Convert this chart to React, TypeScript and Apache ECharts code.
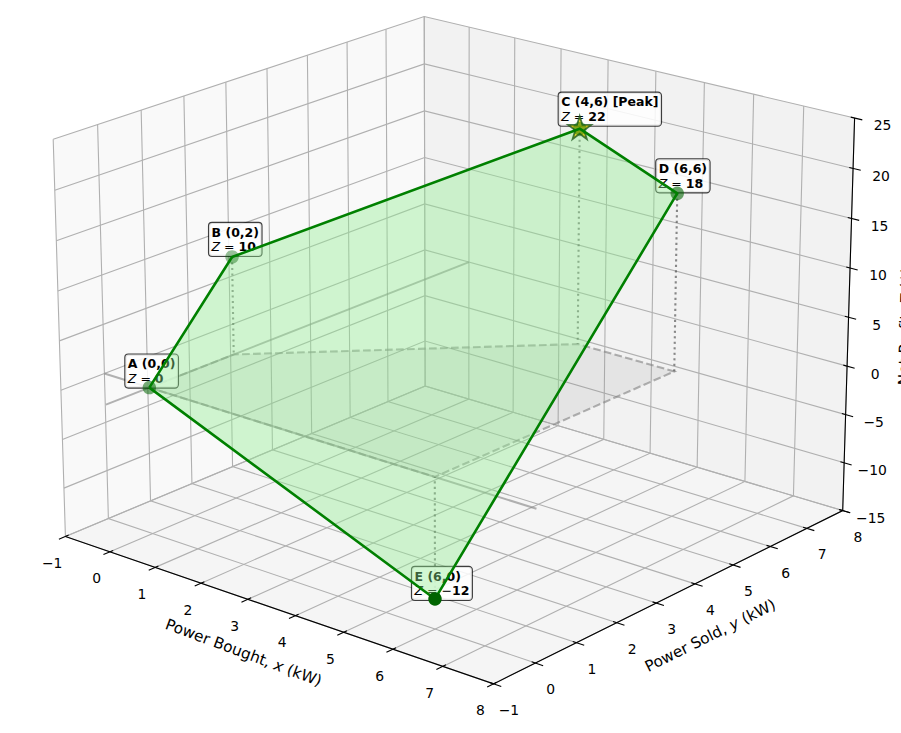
import React, { useEffect, useRef } from 'react';
import * as echarts from 'echarts';

const vertexLabels = ['A (0,0)', 'B (0,2)', 'C (4,6) [Peak]', 'D (6,6)', 'E (6,0)'];
const vertexX = [0, 0, 4, 6, 6];
const vertexY = [0, 2, 6, 6, 0];
const vertexZ = [0, 10, 22, 18, -12];

const xTicks = [-1, 0, 1, 2, 3, 4, 5, 6, 7, 8];
const yTicks = [-1, 0, 1, 2, 3, 4, 5, 6, 7, 8];
const zTicks = [-15, -10, -5, 0, 5, 10, 15, 20, 25];

const xLim = [-1, 8];
const yLim = [-1, 8];
const zLim = [-15, 25];

// label box offset from its point, px
const boxOffsets = [[-24, -33], [-23, -34], [-21, -36], [-21, -34], [-23, -32]];

const W = 901;
const H = 733;
const FONT = '"DejaVu Sans"';

// same camera as a matplotlib 3d axes: elev 20, azim -50, dist 10, box 4:4:3
const ELEV = (20 * Math.PI) / 180;
const AZIM = (-50 * Math.PI) / 180;
const DIST = 10;
const BOX = [1.1905, 1.1905, 0.8929];
const SCALE = 4705;
const CX = 456.7;
const CY = 329;

const n = [Math.cos(ELEV) * Math.cos(AZIM), Math.cos(ELEV) * Math.sin(AZIM), Math.sin(ELEV)];
const u = [-Math.sin(AZIM), Math.cos(AZIM), 0];
const v = [n[1] * u[2] - n[2] * u[1], n[2] * u[0] - n[0] * u[2], n[0] * u[1] - n[1] * u[0]];

type P3 = number[];

const toBox = (p: P3) => [
  ((p[0] - xLim[0]) / (xLim[1] - xLim[0]) - 0.5) * BOX[0],
  ((p[1] - yLim[0]) / (yLim[1] - yLim[0]) - 0.5) * BOX[1],
  ((p[2] - zLim[0]) / (zLim[1] - zLim[0]) - 0.5) * BOX[2],
];
const dot = (a: number[], b: number[]) => a[0] * b[0] + a[1] * b[1] + a[2] * b[2];
const depth = (p: P3) => DIST - dot(n, toBox(p));
const project = (p: P3) => {
  const q = toBox(p);
  const d = DIST - dot(n, q);
  return [CX + (SCALE * dot(u, q)) / d, CY - (SCALE * dot(v, q)) / d];
};

const vertices: P3[] = vertexX.map((x, i) => [x, vertexY[i], vertexZ[i]]);

let zCounter = 1;

function shapeSeries(paths: P3[][], closed: boolean, style: any) {
  return {
    type: 'custom',
    coordinateSystem: 'cartesian2d',
    silent: true,
    clip: false,
    z: zCounter++,
    data: paths.map((_, i) => [i, 0]),
    renderItem: (params: any, api: any) => ({
      type: closed ? 'polygon' : 'polyline',
      shape: { points: paths[params.dataIndex].map((p) => api.coord(project(p))) },
      style: closed ? style : { fill: 'none', ...style },
    }),
  };
}

function textSeries(items: { at: P3; dx: number; dy: number; text: string; rotation?: number }[], style: any) {
  return {
    type: 'custom',
    coordinateSystem: 'cartesian2d',
    silent: true,
    clip: false,
    z: zCounter++,
    data: items.map((_, i) => [i, 0]),
    renderItem: (params: any, api: any) => {
      const it = items[params.dataIndex];
      const c = api.coord(project(it.at));
      return {
        type: 'text',
        x: c[0] + it.dx,
        y: c[1] + it.dy,
        rotation: ((it.rotation || 0) * Math.PI) / 180,
        style: { text: it.text, ...style },
      };
    },
  };
}

function dotSeries(items: any[]) {
  return {
    type: 'scatter',
    silent: true,
    clip: false,
    z: zCounter++,
    symbolSize: 13.5,
    data: items,
  };
}

const minus = (t: number) => String(t).replace('-', '\u2212');

function buildOption() {
  zCounter = 1;
  const [x0, x1] = xLim;
  const [y0, y1] = yLim;
  const [z0, z1] = zLim;

  const gridPaths: P3[][] = [
    ...xTicks.map((x) => [[x, y0, z0], [x, y1, z0], [x, y1, z1]]),
    ...yTicks.map((y) => [[x1, y, z0], [x0, y, z0], [x0, y, z1]]),
    ...zTicks.map((z) => [[x0, y0, z], [x0, y1, z], [x1, y1, z]]),
  ];
  const axisPaths: P3[][] = [
    [[x0, y0, z0], [x1, y0, z0], [x1, y1, z0], [x1, y1, z1]],
    ...xTicks.map((x) => [[x, y0 - 0.15, z0], [x, y0 + 0.075, z0]]),
    ...yTicks.map((y) => [[x1 + 0.15, y, z0], [x1 - 0.075, y, z0]]),
    ...zTicks.map((z) => [[x1 - 0.075, y1, z], [x1 + 0.15, y1, z]]),
  ];
  const tickStyle = {
    fill: '#000',
    font: `13.9px ${FONT}`,
    align: 'center',
    verticalAlign: 'middle',
  };
  const axisTitleRich = {
    r: { fontFamily: 'DejaVu Sans', fontSize: 15.3, fill: '#000' },
    i: { fontFamily: 'DejaVu Sans', fontSize: 15.3, fontStyle: 'italic', fill: '#000' },
  };
  // nearer points look stronger, the way matplotlib shades 3d scatters
  const depths = vertices.map(depth);
  const dMin = Math.min(...depths);
  const dMax = Math.max(...depths);
  const markerAlpha = depths.map((d) => 1 - ((d - dMin) / (dMax - dMin)) * 0.6);
  const markers = vertices.map((p, i) => ({
    value: project(p),
    itemStyle: { color: '#006400', opacity: markerAlpha[i] },
  }));

  const series: any[] = [
    shapeSeries([[[x0, y0, z0], [x0, y1, z0], [x0, y1, z1], [x0, y0, z1]]], true, { fill: '#f9f9f9' }),
    shapeSeries([[[x0, y1, z0], [x1, y1, z0], [x1, y1, z1], [x0, y1, z1]]], true, { fill: '#f2f2f2' }),
    shapeSeries([[[x0, y0, z0], [x1, y0, z0], [x1, y1, z0], [x0, y1, z0]]], true, { fill: '#f5f5f5' }),
    shapeSeries(gridPaths, false, { stroke: '#b0b0b0', lineWidth: 1.1 }),
    shapeSeries(axisPaths, false, { stroke: '#000', lineWidth: 1.1 }),
    textSeries(xTicks.map((t) => ({ at: [t, y0, z0], dx: -13.2, dy: 26.5, text: minus(t) })), tickStyle),
    textSeries(yTicks.map((t) => ({ at: [x1, t, z0], dx: 15.3, dy: 26, text: minus(t) })), tickStyle),
    textSeries(zTicks.map((t) => ({ at: [x1, y1, t], dx: 28, dy: 7.4, text: minus(t) })), tickStyle),
    textSeries(
      [
        { at: [3.5, y0, z0], dx: -28, dy: 45.3, rotation: -20.5, text: '{r|Power Bought, }{i|x}{r| (kW)}' },
        { at: [x1, 3.5, z0], dx: 34.5, dy: 42.3, rotation: 26.5, text: '{r|Power Sold, }{i|y}{r| (kW)}' },
        { at: [x1, y1, 5], dx: 57, dy: 9, rotation: 88.4, text: '{r|Net Profit, }{i|Z}{r| ($)}' },
      ],
      { rich: axisTitleRich, align: 'center', verticalAlign: 'middle' },
    ),
    // reference lines on the z = 0 plane
    shapeSeries(
      [
        [[x0, 0, 0], [x1, 0, 0]],
        [[0, y0, 0], [0, y1, 0]],
      ],
      false,
      { stroke: 'rgba(128,128,128,0.6)', lineWidth: 2 },
    ),
    shapeSeries([vertices.map((p) => [p[0], p[1], 0])], true, {
      fill: 'rgba(128,128,128,0.12)',
      stroke: 'rgba(128,128,128,0.6)',
      lineWidth: 2.1,
      lineDash: [7.7, 3.3],
    }),
    shapeSeries(vertices.map((p) => [p, [p[0], p[1], 0]]), false, {
      stroke: 'rgba(64,64,64,0.6)',
      lineWidth: 2.1,
      lineDash: [2.1, 3.4],
    }),
    textSeries(
      vertices.map((p, i) => ({
        at: p,
        dx: boxOffsets[i][0],
        dy: boxOffsets[i][1],
        text:
          `{b|${vertexLabels[i]}}\n{i|Z}{r| = }` +
          (p[2] < 0 ? `{r|\u2212}{b|${-p[2]}}` : `{b|${p[2]}}`),
      })),
      {
        align: 'left',
        verticalAlign: 'top',
        backgroundColor: 'rgba(255,255,255,0.85)',
        borderColor: 'rgba(0,0,0,0.75)',
        borderWidth: 1.1,
        borderRadius: 3,
        padding: [2, 2.5],
        rich: {
          b: { fontFamily: 'DejaVu Sans', fontSize: 12.5, fontWeight: 'bold', lineHeight: 14.5, fill: '#000' },
          r: { fontFamily: 'DejaVu Sans', fontSize: 12.5, lineHeight: 14.5, fill: '#000' },
          i: { fontFamily: 'DejaVu Sans', fontSize: 12.5, fontStyle: 'italic', lineHeight: 14.5, fill: '#000' },
        },
      },
    ),
    shapeSeries([vertices], true, { fill: 'rgba(144,238,144,0.4)' }),
    {
      type: 'scatter',
      silent: true,
      clip: false,
      z: zCounter++,
      symbol:
        'path://M50 0L61.2 34.5L97.6 34.5L68.2 55.9L79.4 90.5L50 69.1L20.6 90.5L31.8 55.9L2.4 34.5L38.8 34.5Z',
      symbolSize: 23,
      symbolOffset: [0, -1],
      data: [project(vertices[2])],
      itemStyle: { color: '#e6d200', borderColor: '#1f5a1f', borderWidth: 1.8, opacity: 0.8 },
    },
    dotSeries(markers.filter((_, i) => markerAlpha[i] < 1)),
    shapeSeries([[...vertices, vertices[0]]], false, { stroke: '#008000', lineWidth: 2.6, lineJoin: 'round' }),
    dotSeries(markers.filter((_, i) => markerAlpha[i] === 1)),
  ];

  return {
    animation: false,
    backgroundColor: '#fff',
    textStyle: { fontFamily: FONT },
    grid: { left: 0, right: 0, top: 0, bottom: 0 },
    xAxis: { type: 'value', min: 0, max: W, show: false },
    yAxis: { type: 'value', min: 0, max: H, inverse: true, show: false },
    series,
  };
}

export default function App() {
  const ref = useRef<HTMLDivElement | null>(null);

  useEffect(() => {
    document.body.style.margin = '0';
    if (!ref.current) return;
    const chart = echarts.init(ref.current, undefined, { renderer: 'svg' });
    chart.setOption(buildOption() as any);
    return () => {
      chart.dispose();
    };
  }, []);

  return <div ref={ref} style={{ width: W, height: H, overflow: 'hidden' }} />;
}
